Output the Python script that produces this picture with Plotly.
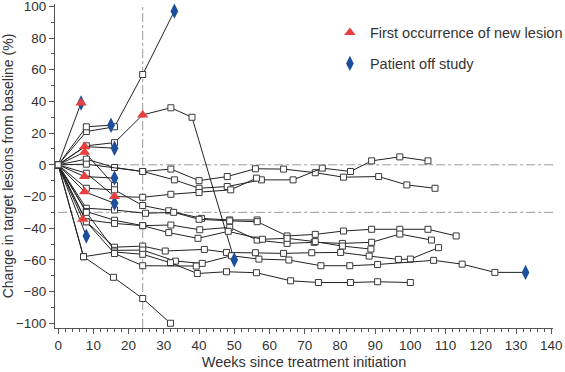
import plotly.graph_objects as go

# ---- data: weeks since treatment initiation / % change in target lesions ----
p01_weeks = [0, 8, 16, 24, 33]
p01_change = [0, 21, 24, 57, 97]
p02_weeks = [0, 6.5]
p02_change = [0, 39]
p03_weeks = [0, 8, 15]
p03_change = [0, 24, 25]
p04_weeks = [0, 8, 16, 24, 32, 38, 50]
p04_change = [0, 12, 14, 31.5, 36, 30, -60]
p05_weeks = [0, 7.5, 16]
p05_change = [0, 11.5, 10.5]
p06_weeks = [0, 7.5, 16]
p06_change = [0, 8, -13]
p07_weeks = [0, 8, 16, 24, 32, 40, 48, 56, 64, 73, 81, 91, 99, 107]
p07_change = [0, 3.6, -1.7, -4.2, -2.7, -10, -7.4, -2.5, -2.7, -5, -7.8, -7.4, -12.7, -14.8]
p08_weeks = [0, 8, 24, 33, 40, 48, 57.7, 66.7, 75, 83, 89, 97, 105]
p08_change = [0, 0.4, -4.2, -9.5, -14.8, -13.7, -9.5, -9.5, -2.1, -4.2, 2.5, 5, 2.5]
p09_weeks = [0, 8, 16, 24, 32, 40, 49, 56.3]
p09_change = [0, -5.3, -20, -20.5, -18.6, -17.5, -15.8, -8.4]
p10_weeks = [0, 7.5, 16]
p10_change = [0, -7.4, -8.4]
p11_weeks = [0, 7.5, 16]
p11_change = [0, -17, -24.3]
p12_weeks = [0, 8]
p12_change = [0, -45]
p13_weeks = [0, 8, 16, 24, 31.4, 40.7, 48.7, 56.5]
p13_change = [0, -14.8, -15.8, -25.7, -29, -33.8, -34.8, -34.8]
p14_weeks = [0, 8, 16, 24.8, 32.8, 40, 48.7, 56.5, 65, 73, 81, 89, 97, 105, 113]
p14_change = [0, -27.4, -28.5, -30.6, -30, -34.4, -35.4, -35.9, -44.9, -43.9, -41.8, -40.7, -40.7, -40.7, -44.9]
p15_weeks = [0, 8, 16, 24, 32, 40.2, 48.7, 56.5, 65, 72.7, 80.7, 89, 97, 106]
p15_change = [0, -29.5, -35, -38.4, -38, -41, -39.5, -47.5, -49.6, -48.9, -49.6, -48.9, -43.7, -47.5]
p16_weeks = [0, 7, 16, 24, 31.4, 39.7, 48.3, 58, 65, 73, 80.7, 88.8]
p16_change = [0, -34.4, -37, -38.4, -42.8, -46.4, -42, -47, -46.4, -48.5, -51.3, -53.2]
p17_weeks = [0, 8, 16, 24, 30.4, 41.5, 47.8, 56, 64, 72, 80.2, 88.3, 96.6, 100, 108]
p17_change = [0, -35.9, -52, -51.3, -54.4, -53.4, -55.3, -55.5, -55.9, -55.5, -55.3, -57.6, -59.7, -59.5, -52.3]
p18_weeks = [0, 8, 16, 24, 33.3, 40.9, 49.2, 57, 65.5, 74.6, 82.8, 90.7, 106.6, 114.7, 124, 132.7]
p18_change = [0, -30, -54, -53.8, -60.8, -62.2, -57.4, -59.5, -60.1, -63.7, -63.7, -62.9, -60.3, -62.7, -67.9, -67.9]
p19_weeks = [0, 7.2, 16, 24, 31.9, 39.5, 47.8, 56.3, 66, 73.9, 83, 90.7, 100]
p19_change = [0, -58, -55, -56.5, -61.8, -68.6, -67.5, -68.1, -73.2, -74.3, -74.3, -73.8, -74.3]
p20_weeks = [0, 8, 16, 24, 39.2]
p20_change = [0, -36, -56, -63.7, -63.9]
p21_weeks = [0, 7.2, 15.7, 24, 31.9]
p21_change = [0, -58, -71, -84.4, -100]

# index of the visit with first occurrence of a new lesion (None if none)
new_lesion_idx = [None, 1, None, 3, 1, 1, None, None, 2, 1, 1, None, None, None, None, 1,
                  None, None, None, None, None]
# patient went off study at last visit
off_study = [True, True, True, True, True, False, False, False, False, True, True, True,
             False, False, False, False, False, True, False, False, False]

weeks = [p01_weeks, p02_weeks, p03_weeks, p04_weeks, p05_weeks, p06_weeks, p07_weeks,
         p08_weeks, p09_weeks, p10_weeks, p11_weeks, p12_weeks, p13_weeks, p14_weeks,
         p15_weeks, p16_weeks, p17_weeks, p18_weeks, p19_weeks, p20_weeks, p21_weeks]
changes = [p01_change, p02_change, p03_change, p04_change, p05_change, p06_change, p07_change,
           p08_change, p09_change, p10_change, p11_change, p12_change, p13_change, p14_change,
           p15_change, p16_change, p17_change, p18_change, p19_change, p20_change, p21_change]

x_ticks = list(range(0, 141, 10))
y_ticks = list(range(-100, 101, 20))
y_ticklabels = [str(v).replace("-", "\u2212") for v in y_ticks]

FONT = "Liberation Sans, Arial, Helvetica, sans-serif"
RED = "#e8403f"
BLUE = "#1d4f9c"

fig = go.Figure()

# reference lines
fig.add_shape(type="line", x0=0, x1=141, y0=0, y1=0, xref="x", yref="y",
              line=dict(color="#9a9a9a", width=1, dash="dashdot"), layer="below")
fig.add_shape(type="line", x0=0, x1=141, y0=-30, y1=-30, xref="x", yref="y",
              line=dict(color="#9a9a9a", width=1, dash="dashdot"), layer="below")
fig.add_shape(type="line", x0=24, x1=24, y0=0, y1=1, xref="x", yref="paper",
              line=dict(color="#9a9a9a", width=1, dash="dashdot"), layer="below")

tri_x, tri_y, dia_x, dia_y = [], [], [], []
for i, (wk, ch) in enumerate(zip(weeks, changes)):
    special = set()
    if new_lesion_idx[i] is not None:
        special.add(new_lesion_idx[i])
        tri_x.append(wk[new_lesion_idx[i]])
        tri_y.append(ch[new_lesion_idx[i]])
    if off_study[i]:
        special.add(len(wk) - 1)
        dia_x.append(wk[-1])
        dia_y.append(ch[-1])
    fig.add_trace(go.Scatter(x=wk, y=ch, mode="lines", line=dict(color="#222222", width=1),
                             showlegend=False, hoverinfo="skip", cliponaxis=False))
    sx = [w for j, w in enumerate(wk) if j not in special]
    sy = [c for j, c in enumerate(ch) if j not in special]
    fig.add_trace(go.Scatter(x=sx, y=sy, mode="markers",
                             marker=dict(symbol="square", size=6, color="white",
                                         line=dict(color="#3a3a3a", width=1)),
                             showlegend=False, hoverinfo="skip", cliponaxis=False))

fig.add_trace(go.Scatter(x=dia_x, y=dia_y, mode="markers", name="Patient off study",
                         marker=dict(symbol="diamond-tall", size=11, color=BLUE,
                                     line=dict(width=0)),
                         legendgroup="b", legendrank=2, cliponaxis=False))
fig.add_trace(go.Scatter(x=tri_x, y=tri_y, mode="markers", name="First occurrence of new lesion",
                         marker=dict(symbol="triangle-up", size=10, color=RED,
                                     line=dict(width=0)),
                         legendgroup="a", legendrank=1, cliponaxis=False))

fig.update_layout(
    width=565, height=372,
    margin=dict(l=55, r=12, t=4, b=44, autoexpand=False),
    paper_bgcolor="white", plot_bgcolor="white",
    font=dict(family=FONT, size=13, color="#333333"),
    showlegend=True,
    legend=dict(x=0.552, y=0.961, xanchor="left", yanchor="top",
                font=dict(family=FONT, size=14.5, color="#333333"),
                bgcolor="rgba(0,0,0,0)", traceorder="grouped", tracegroupgap=9,
                itemwidth=30),
    xaxis=dict(range=[-0.9, 140.5], tickmode="array", tickvals=x_ticks, automargin=False,
               showgrid=False, zeroline=False, showline=True, linecolor="#555555", linewidth=1,
               ticks="outside", ticklen=5, tickcolor="#555555", ticklabeloverflow="allow",
               minor=dict(dtick=2, ticks="outside", ticklen=3, tickcolor="#555555"),
               tickfont=dict(size=13.5),
               title=dict(text="Weeks since treatment initiation", font=dict(size=14.5), standoff=4)),
    yaxis=dict(range=[-103, 101.5], tickmode="array", tickvals=y_ticks, ticktext=y_ticklabels,
               automargin=False, ticklabeloverflow="allow",
               showgrid=False, zeroline=False, showline=True, linecolor="#555555", linewidth=1,
               ticks="outside", ticklen=5, tickcolor="#555555",
               minor=dict(dtick=10, ticks="outside", ticklen=3, tickcolor="#555555"),
               tickfont=dict(size=13.5),
               title=dict(text="Change in target lesions from baseline (%)", font=dict(size=14),
                          standoff=1),
               ),
)

fig.write_html("out.html", config={"displayModeBar": False},
               post_script="document.body.style.margin='0';document.body.style.padding='0';")
